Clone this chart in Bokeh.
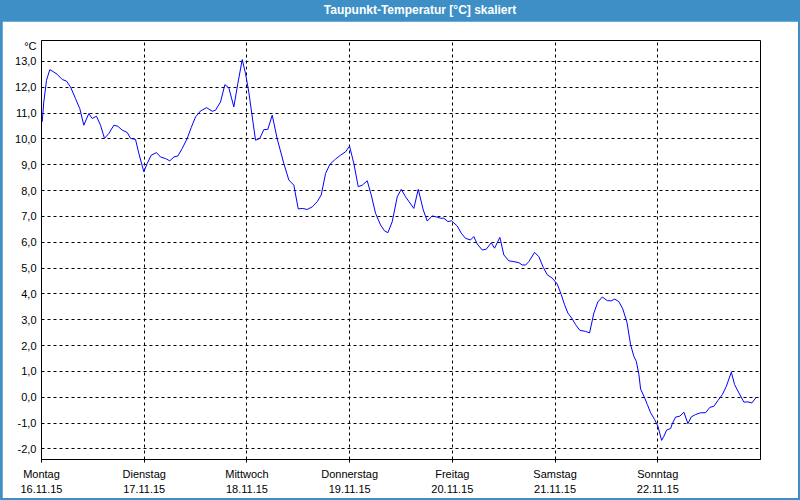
from bokeh.plotting import figure
from bokeh.models import FixedTicker, Range1d, Div
from bokeh.layouts import column
from bokeh.embed import file_html
from bokeh.resources import INLINE

BLUE = "#3d8fc5"
title_text = "Taupunkt-Temperatur [°C] skaliert"
unit_label = "°C"

day_names = ["Montag", "Dienstag", "Mittwoch", "Donnerstag", "Freitag", "Samstag", "Sonntag"]
day_dates = ["16.11.15", "17.11.15", "18.11.15", "19.11.15", "20.11.15", "21.11.15", "22.11.15"]
day_hours = [0, 24, 48, 72, 96, 120, 144]
y_ticks = list(range(-2, 14))

hours = [0.16, 0.54, 1.17, 1.94, 2.87, 3.67, 4.84, 5.84, 6.78, 7.95, 8.95, 9.89, 11.05, 11.85,
         12.85, 13.79, 14.72, 15.73, 16.90, 17.83, 18.86, 20.03, 20.80, 21.97, 22.74, 23.91,
         24.70, 25.64, 26.87, 27.81, 28.98, 29.98, 30.92, 31.85, 32.88, 34.05, 34.98, 35.99,
         37.15, 38.56, 39.89, 40.66, 41.83, 42.84, 43.77, 44.94, 45.87, 46.90, 47.67, 48.44,
         50.01, 51.01, 51.95, 52.88, 53.91, 55.08, 56.62, 57.79, 58.96, 59.99, 60.92, 62.09,
         63.26, 64.43, 65.36, 66.37, 67.37, 68.70, 69.87, 71.04, 71.98, 72.98, 74.01, 74.94,
         76.11, 77.05, 78.05, 79.22, 80.16, 80.93, 81.96, 83.12, 84.06, 85.06, 87.00, 88.03,
         89.20, 90.13, 91.30, 92.47, 93.24, 94.01, 94.95, 95.81, 97.14, 98.08, 99.08, 100.25,
         101.02, 101.82, 102.99, 103.92, 105.09, 105.86, 107.10, 108.03, 109.20, 110.37,
         111.54, 112.33, 113.11, 113.88, 115.21, 116.21, 117.24, 118.18, 119.35, 120.51,
         121.45, 122.22, 122.99, 124.02, 124.79, 125.79, 127.13, 128.06, 129.07, 130.00,
         131.03, 132.20, 133.09, 133.95, 134.91, 135.82, 136.80, 137.65, 138.42, 138.98,
         139.59, 139.98, 140.92, 141.55, 142.32, 143.25, 144.03, 144.89, 145.43, 146.06,
         147.00, 147.39, 148.16, 149.17, 150.10, 151.04, 151.83, 152.83, 154.00, 155.17,
         156.17, 157.11, 158.04, 159.07, 160.01, 161.18, 161.95, 162.95, 164.12, 165.05,
         165.99, 167.02]
dewpoint = [10.66, 11.43, 12.27, 12.68, 12.59, 12.50, 12.30, 12.24, 12.01, 11.56, 11.17, 10.53,
            10.98, 10.79, 10.88, 10.53, 10.02, 10.21, 10.53, 10.49, 10.34, 10.25, 10.02, 9.98,
            9.44, 8.73, 9.05, 9.37, 9.47, 9.30, 9.24, 9.15, 9.30, 9.34, 9.63, 10.02, 10.44,
            10.85, 11.08, 11.21, 11.07, 11.11, 11.43, 12.10, 11.98, 11.24, 12.14, 13.07, 12.53,
            11.81, 9.95, 10.02, 10.36, 10.37, 10.92, 10.00, 9.05, 8.41, 8.21, 7.29, 7.31, 7.27,
            7.37, 7.57, 7.83, 8.66, 9.01, 9.22, 9.37, 9.50, 9.72, 9.05, 8.15, 8.21, 8.38, 7.83,
            7.12, 6.67, 6.44, 6.37, 6.80, 7.76, 8.05, 7.76, 7.31, 8.05, 7.25, 6.82, 7.02, 6.97,
            6.93, 6.93, 6.80, 6.83, 6.63, 6.35, 6.15, 6.09, 6.22, 5.93, 5.70, 5.73, 5.98, 5.77,
            6.19, 5.51, 5.28, 5.25, 5.21, 5.12, 5.12, 5.25, 5.61, 5.44, 5.03, 4.74, 4.61, 4.38,
            3.97, 3.58, 3.26, 3.03, 2.81, 2.59, 2.55, 2.49, 3.26, 3.69, 3.88, 3.74, 3.73, 3.80,
            3.70, 3.42, 2.90, 2.03, 1.58, 1.39, 0.88, 0.32, -0.02, -0.28, -0.60, -0.86, -1.12,
            -1.67, -1.51, -1.27, -1.21, -1.02, -0.77, -0.73, -0.58, -1.02, -0.76, -0.67, -0.60,
            -0.60, -0.39, -0.35, -0.13, 0.10, 0.42, 0.97, 0.49, 0.17, -0.19, -0.18, -0.22, 0.00]

FONT = "Liberation Sans"

p = figure(width=796, height=477, output_backend="svg", toolbar_location=None,
           x_range=Range1d(0, 168), y_range=Range1d(-2.41, 13.81),
           min_border_left=39, min_border_right=38, min_border_top=19, min_border_bottom=38,
           margin=(0, 2, 2, 2))
p.background_fill_color = "white"
p.border_fill_color = "white"
p.outline_line_color = "black"
p.outline_line_alpha = 1
p.outline_line_width = 1

p.line(hours, dewpoint, line_color="#0000ff", line_width=1)

# x axis
p.xaxis.ticker = FixedTicker(ticks=day_hours)
p.xaxis.major_label_overrides = {h: f"{n}\n{d}" for h, n, d in zip(day_hours, day_names, day_dates)}
p.xaxis.major_tick_out = 3
p.xaxis.major_tick_in = 0
p.xaxis.minor_tick_line_color = None
p.xaxis.axis_line_color = "black"
p.xaxis.major_tick_line_color = "black"
p.xaxis.major_label_text_font = FONT
p.xaxis.major_label_text_font_size = "11px"
p.xaxis.major_label_text_color = "black"
p.xaxis.major_label_text_line_height = 1.3
p.xaxis.major_label_standoff = 5

# y axis
unit_pos = 13.6
p.yaxis.ticker = FixedTicker(ticks=y_ticks + [unit_pos])
overrides = {t: f"{t},0" for t in y_ticks}
overrides[unit_pos] = unit_label
p.yaxis.major_label_overrides = overrides
p.yaxis.major_tick_out = 0
p.yaxis.major_tick_in = 0
p.yaxis.minor_tick_line_color = None
p.yaxis.axis_line_color = None
p.yaxis.major_label_text_font = FONT
p.yaxis.major_label_text_font_size = "11px"
p.yaxis.major_label_text_color = "black"
p.yaxis.major_label_standoff = 5

# grids
p.xgrid.ticker = FixedTicker(ticks=day_hours[1:])
p.ygrid.ticker = FixedTicker(ticks=y_ticks)
for g in (p.xgrid, p.ygrid):
    g.grid_line_color = "black"
    g.grid_line_dash = "3 3"
    g.grid_line_alpha = 1
    g.grid_line_width = 1

title = Div(text=f"<span style='position:relative;left:20px'>{title_text}</span>",
            width=800, height=21, margin=0,
            styles={"background-color": BLUE, "color": "white", "font-family": FONT,
                    "font-size": "12px", "font-weight": "bold", "text-align": "center",
                    "line-height": "21px"})

layout = column(title, p, spacing=0, styles={"background-color": BLUE})

open("out.html", "w").write(file_html(layout, INLINE))
